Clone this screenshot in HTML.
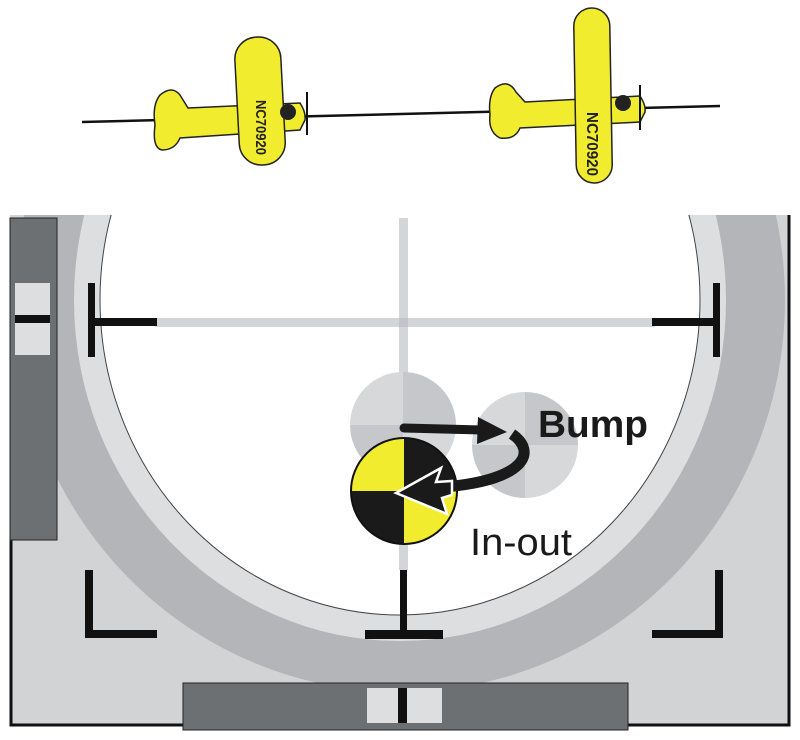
<!DOCTYPE html>
<html><head><style>
html,body{margin:0;padding:0;background:#fff;}
svg{display:block;}
</style></head><body>
<svg width="800" height="740" viewBox="0 0 800 740" xmlns="http://www.w3.org/2000/svg">
<defs>
<clipPath id="box"><rect x="10" y="215" width="780" height="510"/></clipPath>
<clipPath id="c1"><circle cx="403" cy="425" r="53"/></clipPath>
<clipPath id="c2"><circle cx="525" cy="445" r="53"/></clipPath>
<clipPath id="c3"><circle cx="404" cy="491" r="53"/></clipPath>
</defs>
<rect x="10" y="215" width="780" height="510" fill="#d1d3d5"/>
<g clip-path="url(#box)">
<ellipse cx="400" cy="300" rx="385" ry="392" fill="#b3b5b8"/>
<ellipse cx="400" cy="300" rx="326" ry="341" fill="#dcdee0"/>
<ellipse cx="400" cy="300" rx="300" ry="315" fill="#fff" stroke="#444" stroke-width="1"/>
</g>
<polyline points="11,540 11,725 789,725 789,215" fill="none" stroke="#111" stroke-width="3"/>
<rect x="10" y="218" width="47" height="322" fill="#6d7073" stroke="#222" stroke-width="1"/>
<rect x="15" y="283" width="35" height="72" fill="#dcdee0"/>
<rect x="15" y="315" width="35" height="8" fill="#111"/>
<rect x="399" y="218" width="9" height="352" fill="#d3d5d8"/>
<rect x="155" y="318" width="500" height="9" fill="#d3d5d8"/>
<rect x="399" y="318" width="9" height="9" fill="#c2c4c7"/>
<rect x="88" y="283" width="7" height="74" fill="#111"/>
<rect x="92" y="318" width="65" height="8" fill="#111"/>
<rect x="713" y="283" width="7" height="74" fill="#111"/>
<rect x="652" y="318" width="65" height="8" fill="#111"/>
<rect x="400" y="570" width="7" height="64" fill="#111"/>
<rect x="365" y="630" width="78" height="9" fill="#111"/>
<rect x="85" y="570" width="8" height="68" fill="#111"/>
<rect x="85" y="630" width="72" height="8" fill="#111"/>
<rect x="715" y="570" width="8" height="68" fill="#111"/>
<rect x="652" y="630" width="71" height="8" fill="#111"/>
<rect x="183" y="683" width="445" height="47" fill="#6d7073" stroke="#222" stroke-width="1"/>
<rect x="367" y="688" width="75" height="35" fill="#dcdee0"/>
<rect x="398" y="688" width="9" height="35" fill="#111"/>
<g clip-path="url(#c1)">
<rect x="350" y="372" width="53" height="53" fill="#d6d8da"/>
<rect x="403" y="372" width="53" height="53" fill="#c5c7ca"/>
<rect x="350" y="425" width="53" height="53" fill="#c5c7ca"/>
<rect x="403" y="425" width="53" height="53" fill="#d6d8da"/>
</g>
<g clip-path="url(#c2)">
<rect x="472" y="392" width="53" height="53" fill="#d6d8da"/>
<rect x="525" y="392" width="53" height="53" fill="#c5c7ca"/>
<rect x="472" y="445" width="53" height="53" fill="#c5c7ca"/>
<rect x="525" y="445" width="53" height="53" fill="#d6d8da"/>
</g>
<g clip-path="url(#c3)">
<rect x="351" y="438" width="53" height="53" fill="#f2ec2e"/>
<rect x="404" y="438" width="53" height="53" fill="#1a1a1a"/>
<rect x="351" y="491" width="53" height="53" fill="#1a1a1a"/>
<rect x="404" y="491" width="53" height="53" fill="#f2ec2e"/>
</g>
<circle cx="404" cy="491" r="53" fill="none" stroke="#111" stroke-width="2"/>
<path d="M404,428 L482,430" stroke="#1a1a1a" stroke-width="9" stroke-linecap="round" fill="none"/>
<polygon points="478,417 507,432 477,444" fill="#1a1a1a"/>
<path d="M512,434 C538,452 525,480 445,487" stroke="#1a1a1a" stroke-width="11" fill="none"/>
<polygon points="396,493 441,468 436,482 452,481 452,495 442,498 447,514" fill="#1a1a1a" stroke="#fff" stroke-width="2.5"/>
<text x="538" y="437" font-family="Liberation Sans, sans-serif" font-weight="bold" font-size="38" textLength="110" lengthAdjust="spacingAndGlyphs" fill="#1a1a1a">Bump</text>
<text x="470" y="555" font-family="Liberation Sans, sans-serif" font-size="38" textLength="102" lengthAdjust="spacingAndGlyphs" fill="#1a1a1a">In-out</text>
<line x1="82" y1="122" x2="720" y2="106" stroke="#111" stroke-width="2.5"/>
<g stroke="#222" stroke-width="1.5" fill="#f2ec2e">
<path d="M160,95 Q172,85 180,95 L188,108 L300,103 Q306,112 305,120 L300,130 L180,138 Q175,150 162,150 Q152,148 155,125 Q152,105 160,95 Z"/>
<rect x="237" y="37" width="46" height="128" rx="22" transform="rotate(-3 260 100)"/>
<circle cx="288" cy="112" r="8" fill="#222" stroke="none"/>
<line x1="307" y1="92" x2="307" y2="135" stroke="#111" stroke-width="2"/>
</g>
<text transform="translate(256,100) rotate(90)" font-family="Liberation Sans, sans-serif" font-weight="bold" font-size="15" textLength="55" lengthAdjust="spacingAndGlyphs" fill="#222">NC70920</text>
<g stroke="#222" stroke-width="1.5" fill="#f2ec2e">
<path d="M495,88 Q508,78 516,92 L525,102 L640,96 Q646,105 645,112 L640,122 L520,128 Q515,140 500,138 Q488,132 490,115 Q488,97 495,88 Z"/>
<rect x="575" y="8" width="36" height="175" rx="18" transform="rotate(-1 593 95)"/>
<circle cx="623" cy="103" r="8" fill="#222" stroke="none"/>
<line x1="640" y1="85" x2="640" y2="130" stroke="#111" stroke-width="2"/>
</g>
<text transform="translate(587,112) rotate(90)" font-family="Liberation Sans, sans-serif" font-weight="bold" font-size="16" textLength="64" lengthAdjust="spacingAndGlyphs" fill="#222">NC70920</text>
</svg>
</body></html>
